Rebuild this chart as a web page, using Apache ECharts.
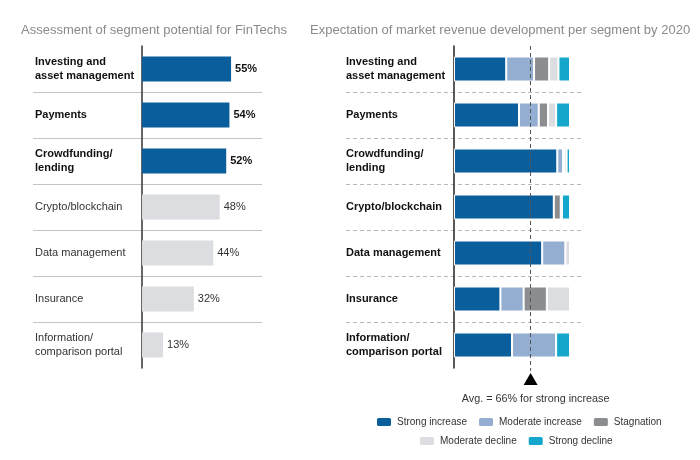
<!DOCTYPE html>
<html>
<head>
<meta charset="utf-8">
<script src="https://cdn.jsdelivr.net/npm/echarts@6/dist/echarts.min.js"></script>
<style>
html,body{margin:0;padding:0;background:#fff;}
#main{width:700px;height:460px;}
</style>
</head>
<body>
<div id="main"></div>
<script>
// ---- data ----
var categories = ['Investing and\nasset management', 'Payments', 'Crowdfunding/\nlending', 'Crypto/blockchain', 'Data management', 'Insurance', 'Information/\ncomparison portal'];
var potential = [55, 54, 52, 48, 44, 32, 13];
var highlighted = [true, true, true, false, false, false, false];
var strongIncrease = [45, 56, 89, 86, 76, 40, 50];
var moderateIncrease = [24, 17, 5, 0, 20, 20, 38];
var stagnation = [13, 8, 1, 6, 0, 20, 0];
var moderateDecline = [8, 7, 2, 1, 4, 20, 0];
var strongDecline = [10, 12, 3, 7, 0, 0, 12];
var avgStrong = 66;
var seriesNames = ['Strong increase', 'Moderate increase', 'Stagnation', 'Moderate decline', 'Strong decline'];
var leftTitle = 'Assessment of segment potential for FinTechs';
var rightTitle = 'Expectation of market revenue development per segment by 2020';
var avgText = 'Avg. = 66% for strong increase';

var FONT = '"Liberation Sans", Arial, sans-serif';
var colors = ['#0b5e9c', '#93aed0', '#8b8d91', '#dcdde0', '#15a6cc'];
var darkBlue = '#0b5e9c', lightGrey = '#dcdde0';

var chart = echarts.init(document.getElementById('main'), null, {renderer: 'canvas'});

var potentialData = potential.map(function (v, i) {
  return {
    value: v,
    itemStyle: {color: highlighted[i] ? darkBlue : lightGrey},
    label: highlighted[i] ? {fontWeight: 'bold', color: '#111'} : {fontWeight: 'normal', color: '#333'}
  };
});

var stackSeries = [strongIncrease, moderateIncrease, stagnation, moderateDecline, strongDecline].map(function (arr, k) {
  var s = {
    name: seriesNames[k],
    type: 'bar',
    xAxisIndex: 1,
    yAxisIndex: 1,
    stack: 'rev',
    barWidth: 25,
    data: arr,
    itemStyle: {color: colors[k], borderColor: '#fff', borderWidth: 1},
    emphasis: {disabled: true}
  };
  if (k === 0) {
    s.markLine = {
      silent: true,
      symbol: 'none',
      lineStyle: {type: [4, 3], color: '#555', width: 1},
      label: {show: false},
      data: [{xAxis: avgStrong}]
    };
  }
  return s;
});

var option = {
  animation: false,
  textStyle: {fontFamily: FONT},
  title: [
    {text: leftTitle, left: 16, top: 19, textStyle: {fontFamily: FONT, fontSize: 13, fontWeight: 'normal', color: '#8a8a8a'}},
    {text: rightTitle, left: 305, top: 19, textStyle: {fontFamily: FONT, fontSize: 13, fontWeight: 'normal', color: '#8a8a8a'}}
  ],
  legend: [
    {data: seriesNames.slice(0, 3), left: 370, top: 411, width: 325, itemWidth: 16, itemHeight: 10, itemGap: 10,
     textStyle: {fontFamily: FONT, fontSize: 10, color: '#333'}, selectedMode: false},
    {data: seriesNames.slice(3), left: 413, top: 430, width: 280, itemWidth: 16, itemHeight: 10, itemGap: 10,
     textStyle: {fontFamily: FONT, fontSize: 10, color: '#333'}, selectedMode: false}
  ],
  grid: [
    {left: 33, top: 46, width: 229, height: 322, outerBoundsMode: 'none', containLabel: false},
    {left: 346, top: 46, width: 236, height: 322, outerBoundsMode: 'none', containLabel: false}
  ],
  xAxis: [
    {type: 'value', gridIndex: 0, min: -67.3, max: 74.1, show: false},
    {type: 'value', gridIndex: 1, min: -93.1, max: 110.3, show: false}
  ],
  yAxis: [
    {
      type: 'category', gridIndex: 0, data: categories, inverse: true,
      axisLine: {show: true, onZero: true, lineStyle: {color: '#333', width: 1.5}},
      axisTick: {show: false},
      splitLine: {show: true, showMinLine: false, showMaxLine: false, lineStyle: {color: '#c4c4c4', width: 1}},
      axisLabel: {
        margin: -2, align: 'left', fontFamily: FONT,
        formatter: function (v, i) { return highlighted[i] ? '{b|' + v + '}' : '{n|' + v + '}'; },
        rich: {
          b: {fontFamily: FONT, fontSize: 11, fontWeight: 'bold', color: '#111', lineHeight: 13.5},
          n: {fontFamily: FONT, fontSize: 11, fontWeight: 'normal', color: '#333', lineHeight: 13.5}
        }
      }
    },
    {
      type: 'category', gridIndex: 1, data: categories, inverse: true,
      axisLine: {show: true, onZero: true, lineStyle: {color: '#222', width: 1.5}},
      axisTick: {show: false},
      splitLine: {show: true, showMinLine: false, showMaxLine: false, lineStyle: {color: '#b8b8b8', width: 1, type: [4, 3]}},
      axisLabel: {
        margin: 0, align: 'left', fontFamily: FONT, fontSize: 11, fontWeight: 'bold', color: '#111', lineHeight: 13.5
      }
    }
  ],
  series: [
    {
      type: 'bar', xAxisIndex: 0, yAxisIndex: 0, barWidth: 25, data: potentialData,
      label: {show: true, position: 'right', distance: 4, formatter: '{c}%', fontFamily: FONT, fontSize: 11},
      emphasis: {disabled: true}
    }
  ].concat(stackSeries)
};
chart.setOption(option);

// Average marker below the plot, positioned through the chart's own scales
var last = categories.length - 1;
var pLast = chart.convertToPixel({xAxisIndex: 1, yAxisIndex: 1}, [avgStrong, categories[last]]);
var pPrev = chart.convertToPixel({xAxisIndex: 1, yAxisIndex: 1}, [avgStrong, categories[last - 1]]);
var band = pLast[1] - pPrev[1];
var bottom = pLast[1] + band / 2;
var ax = pLast[0];
chart.setOption({
  graphic: [
    {type: 'polygon', silent: true, shape: {points: [[ax, bottom + 5], [ax - 7, bottom + 17], [ax + 7, bottom + 17]]}, style: {fill: '#000'}},
    {type: 'line', silent: true, shape: {x1: ax, y1: bottom, x2: ax, y2: bottom + 5}, style: {stroke: '#555', lineWidth: 1, lineDash: [3, 2]}},
    {type: 'text', silent: true, x: ax + 5, y: bottom + 31, style: {text: avgText, fontFamily: FONT, fontSize: 10.8, fill: '#333', align: 'center', verticalAlign: 'middle'}}
  ]
});
</script>
</body>
</html>
